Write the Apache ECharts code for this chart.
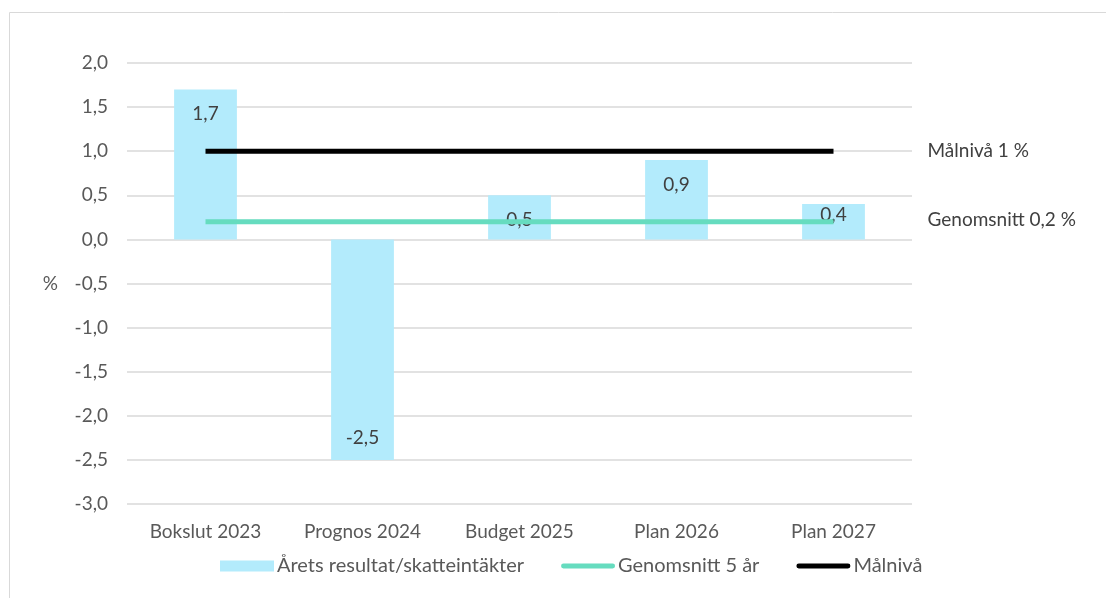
<!DOCTYPE html>
<html><head><meta charset="utf-8">
<script src="https://cdn.jsdelivr.net/npm/echarts@6/dist/echarts.min.js"></script>
<style>html,body{margin:0;padding:0;background:#fff}#c{width:1106px;height:598px}</style>
</head><body><div id="c"></div>
<script>
const categories = ['Bokslut 2023','Prognos 2024','Budget 2025','Plan 2026','Plan 2027'];
const resultat = [1.7, -2.5, 0.5, 0.9, 0.4];
const genomsnitt = [0.2, 0.2, 0.2, 0.2, 0.2];
const malniva = [1, 1, 1, 1, 1];
const seriesNames = ['Årets resultat/skatteintäkter','Genomsnitt 5 år','Målnivå'];
const endLabels = ['Genomsnitt 0,2 %','Målnivå 1 %'];

const fmt = v => v.toFixed(1).replace('.', ',');
const font = 'Lato, Carlito, sans-serif';
const FS = 19;
const chart = echarts.init(document.getElementById('c'));
const barData = resultat.map((v, i) => {
  const d = {value: v};
  if (v < 0) d.label = {position: 'insideBottom', distance: 13};
  else if (v < 0.45) d.label = {position: 'inside', offset: [0, -7]};
  return d;
});
const lineIcon = 'path://M2.5,0 H53.5 A2.5,2.5 0 0 1 53.5,5 H2.5 A2.5,2.5 0 0 1 2.5,0 Z';
chart.setOption({
  animation: false,
  textStyle: {fontFamily: font},
  graphic: [{type: 'rect', shape: {x: 9.5, y: 12.5, width: 1200, height: 700},
    style: {fill: 'none', stroke: '#d9d9d9', lineWidth: 1}, silent: true}],
  grid: {left: 127, right: 194, top: 63, bottom: 94},
  legend: {
    bottom: 17, left: 215, itemGap: 37, itemWidth: 54, itemHeight: 11,
    textStyle: {color: '#595959', fontSize: 20, fontFamily: font, padding: [0, 0, 0, -2]},
    data: [{name: seriesNames[0], icon: 'rect'}, {name: seriesNames[1], icon: lineIcon}, {name: seriesNames[2], icon: lineIcon}]
  },
  xAxis: {
    type: 'category', data: categories,
    axisLine: {show: false}, axisTick: {show: false},
    axisLabel: {color: '#595959', fontSize: FS, margin: 18}
  },
  yAxis: {
    type: 'value', min: -3, max: 2, interval: 0.5,
    name: '%', nameLocation: 'middle', nameRotate: 0, nameGap: 69,
    nameTextStyle: {color: '#595959', fontSize: FS, padding: [46, 0, 0, 0]},
    axisLabel: {color: '#595959', fontSize: FS, margin: 19, formatter: fmt},
    splitLine: {lineStyle: {color: '#d9d9d9', width: 1.5}},
    axisLine: {show: false}, axisTick: {show: false}
  },
  series: [
    {name: seriesNames[0], type: 'bar', data: barData, barWidth: '40%',
     itemStyle: {color: '#b3ebfc'},
     label: {show: true, position: 'insideTop', distance: 15, color: '#404040', fontSize: FS,
       formatter: p => fmt(p.value)}},
    {name: seriesNames[1], type: 'line', data: genomsnitt, symbol: 'none',
     lineStyle: {color: '#66dcbf', width: 5}, itemStyle: {color: '#66dcbf'},
     endLabel: {show: true, formatter: endLabels[0], distance: 94, color: '#404040', fontSize: FS, offset: [0, -2]}},
    {name: seriesNames[2], type: 'line', data: malniva, symbol: 'none',
     lineStyle: {color: '#000', width: 5}, itemStyle: {color: '#000'},
     endLabel: {show: true, formatter: endLabels[1], distance: 94, color: '#404040', fontSize: FS}}
  ]
});
</script></body></html>
